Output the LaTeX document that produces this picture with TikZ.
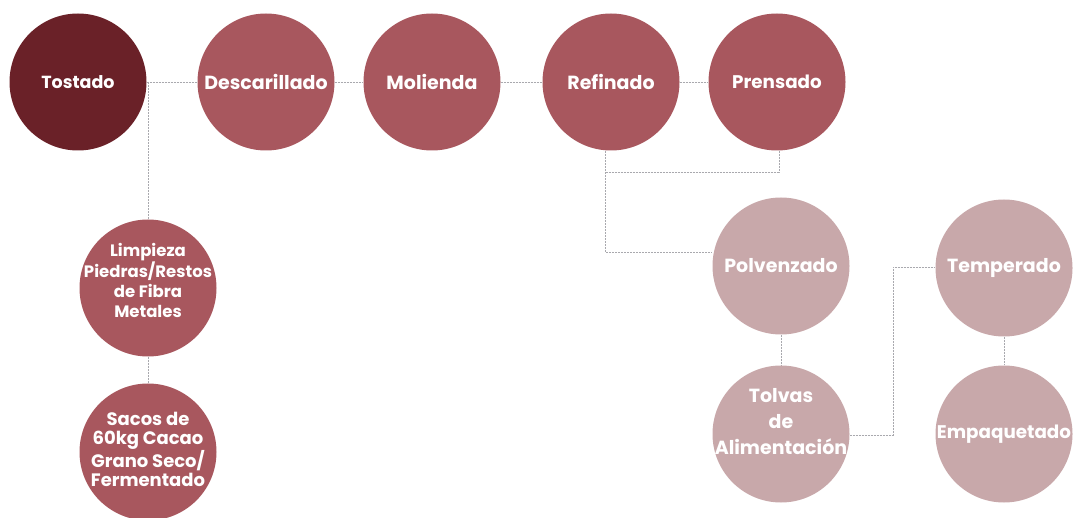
\documentclass[tikz,border=0pt]{standalone}
\usepackage{fontspec}
\setmainfont{Poppins}
\usetikzlibrary{backgrounds}
\definecolor{cdark}{HTML}{6A2128}
\definecolor{cmid}{HTML}{A8575E}
\definecolor{clight}{HTML}{C8A8AA}
\definecolor{cline}{HTML}{A9A9AE}
\begin{document}
\begin{tikzpicture}[x=1pt,y=-1pt,
  proc/.style={circle,minimum size=137pt,inner sep=0pt,text=white,align=center,
    font=\fontsize{19}{24}\selectfont\bfseries},
  dk/.style={proc,fill=cdark},
  md/.style={proc,fill=cmid},
  lt/.style={proc,fill=clight},
  lbl/.style={align=center,text=white,inner sep=0pt},
  link/.style={draw=cline,line width=0.6pt,dash pattern=on 2pt off 1pt}]
\useasboundingbox (0,0) rectangle (1076,518);
\node[dk,font=\fontsize{17.5}{22}\selectfont\bfseries] (tost) at (78,82) {Tostado};
\node[md] (desc) at (266,82) {Descarillado};
\node[md] (mol) at (432,82) {Molienda};
\node[md] (ref) at (611,82) {Refinado};
\node[md,font=\fontsize{18.3}{22}\selectfont\bfseries] (pren) at (777,82) {Prensado};
\node[md] (limp) at (148,288) {};
\node[lbl,font=\fontsize{16.5}{20}\selectfont\bfseries] (limpt) at (148,280) {Limpieza\\Piedras/Restos\\de Fibra\\Metales};
\node[md] (sacos) at (148,452) {};
\node[lbl,font=\fontsize{18}{19}\selectfont\bfseries] (sacost) at (148,449) {Sacos de\\60kg Cacao\\Grano Seco/\\Fermentado};
\node[lt] (polv) at (781,266) {Polvenzado};
\node[lt] (tolv) at (781,434) {};
\node[lbl,font=\fontsize{19}{26}\selectfont\bfseries] (tolvt) at (781,422) {Tolvas\\de\\Alimentación};
\node[lt] (temp) at (1004,268) {Temperado};
\node[lt,font=\fontsize{18.3}{22}\selectfont\bfseries] (emp) at (1004,434) {Empaquetado};
\coordinate (tcorner) at (148,82);
\coordinate (rjoin) at (605,172);
\coordinate (pjoin) at (779,172);
\coordinate (rtop) at (605,82);
\coordinate (rbot) at (605,252);
\coordinate (tj1) at (893,435);
\coordinate (tj2) at (893,267);
\begin{scope}[on background layer]
\draw[link] (tost) -- (desc);
\draw[link] (desc) -- (mol);
\draw[link] (mol) -- (ref);
\draw[link] (ref) -- (pren);
\draw[link] (tcorner) -- (limp);
\draw[link] (limp) -- (sacos);
\draw[link] (rtop) -- (rbot) -- (polv.west |- rbot);
\draw[link] (pren.south -| pjoin) -- (pjoin) -- (rjoin);
\draw[link] (polv) -- (tolv);
\draw[link] (tolv.east |- tj1) -- (tj1) -- (tj2) -- (temp.west |- tj2);
\draw[link] (temp) -- (emp);
\end{scope}
\end{tikzpicture}
\end{document}
